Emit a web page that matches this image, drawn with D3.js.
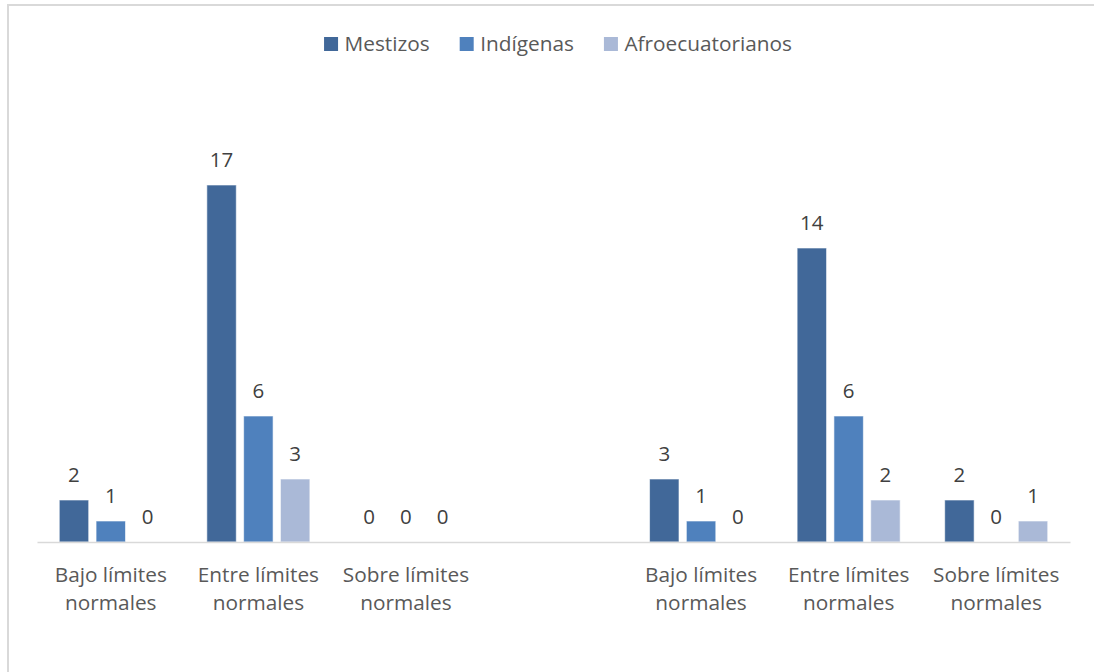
<!DOCTYPE html>
<html lang="es">
<head>
<meta charset="utf-8">
<script src="https://cdn.jsdelivr.net/npm/d3@7"></script>
<style>
  html, body { margin: 0; padding: 0; background: #ffffff; }
  svg { display: block; }
  text { font-family: "Open Sans", "Noto Sans", sans-serif; }
</style>
</head>
<body>
<svg id="chart" width="1094" height="672"></svg>
<script>
// Category slots along the x axis; the empty slot separates the two blocks.
const categories = [
  "Bajo límites normales",
  "Entre límites normales",
  "Sobre límites normales",
  "",
  "Bajo límites normales",
  "Entre límites normales",
  "Sobre límites normales"
];
const seriesNames = ["Mestizos", "Indígenas", "Afroecuatorianos"];
const mestizos = [2, 17, 0, null, 3, 14, 2];
const indigenas = [1, 6, 0, null, 1, 6, 0];
const afroecuatorianos = [0, 3, 0, null, 0, 2, 1];
const seriesColors = ["#416899", "#4f81bd", "#aab9d7"];

const seriesValues = [mestizos, indigenas, afroecuatorianos];

const svg = d3.select("#chart");

// Chart frame
svg.append("rect")
  .attr("x", 8).attr("y", 5)
  .attr("width", 1200).attr("height", 800)
  .attr("fill", "none")
  .attr("stroke", "#d9d9d9")
  .attr("stroke-width", 2);

const baseY = 542;
const x0 = d3.scaleBand()
  .domain(d3.range(categories.length))
  .range([37, 1070])
  .paddingInner(0)
  .paddingOuter(0);

const x1 = d3.scaleBand()
  .domain(seriesNames)
  .range([0, x0.bandwidth()])
  .paddingInner(0.2)
  .paddingOuter(0.605);

const y = d3.scaleLinear()
  .domain([0, 20])
  .range([baseY, baseY - 20 * 21]);

const color = d3.scaleOrdinal().domain(seriesNames).range(seriesColors);

// Flatten into bar records
const bars = [];
categories.forEach((c, i) => {
  seriesNames.forEach((s, k) => {
    const v = seriesValues[k][i];
    if (v !== null && v !== undefined) bars.push({ slot: i, series: s, value: v });
  });
});

const barG = svg.append("g");
barG.selectAll("rect")
  .data(bars)
  .join("rect")
  .attr("x", d => x0(d.slot) + x1(d.series))
  .attr("y", d => y(d.value))
  .attr("width", x1.bandwidth())
  .attr("height", d => y(0) - y(d.value))
  .attr("fill", d => color(d.series))
  .attr("stroke", "#ffffff")
  .attr("stroke-opacity", 0.6)
  .attr("stroke-width", 1);

// Value labels
barG.selectAll("text")
  .data(bars)
  .join("text")
  .attr("x", d => x0(d.slot) + x1(d.series) + x1.bandwidth() / 2)
  .attr("y", d => y(d.value) - 18)
  .attr("text-anchor", "middle")
  .attr("font-size", 20.5)
  .attr("fill", "#404040")
  .text(d => d3.format("d")(d.value));

// X axis
const xAxis = d3.axisBottom(x0).tickSize(0).tickFormat(() => "");
const axisG = svg.append("g")
  .attr("transform", `translate(0,${baseY})`)
  .call(xAxis);
axisG.select(".domain")
  .attr("stroke", "#d9d9d9")
  .attr("stroke-width", 1.5);

// Two-line category labels
axisG.selectAll(".tick").each(function(i) {
  const label = categories[i];
  if (!label) return;
  const words = label.split(" ");
  const lines = [words.slice(0, 2).join(" "), words.slice(2).join(" ")];
  const t = d3.select(this).append("text")
    .attr("text-anchor", "middle")
    .attr("font-size", 20.8)
    .attr("fill", "#595959");
  lines.forEach((ln, j) => {
    t.append("tspan").attr("x", 0).attr("y", 40 + j * 28).text(ln);
  });
});

// Legend
const legend = svg.append("g");
const items = legend.selectAll("g")
  .data(seriesNames)
  .join("g");
items.append("rect")
  .attr("width", 14).attr("height", 14)
  .attr("y", 37)
  .attr("fill", d => color(d));
items.append("text")
  .attr("x", 20.5)
  .attr("y", 51)
  .attr("font-size", 20.8)
  .attr("fill", "#595959")
  .text(d => d);

let offset = 0;
const positions = [];
items.each(function() {
  const w = d3.select(this).select("text").node().getComputedTextLength();
  positions.push(offset);
  offset += 20.5 + w + 30;
});
const totalW = offset - 30;
const startX = 558 - totalW / 2;
items.attr("transform", (d, i) => `translate(${startX + positions[i]},0)`);
</script>
</body>
</html>
